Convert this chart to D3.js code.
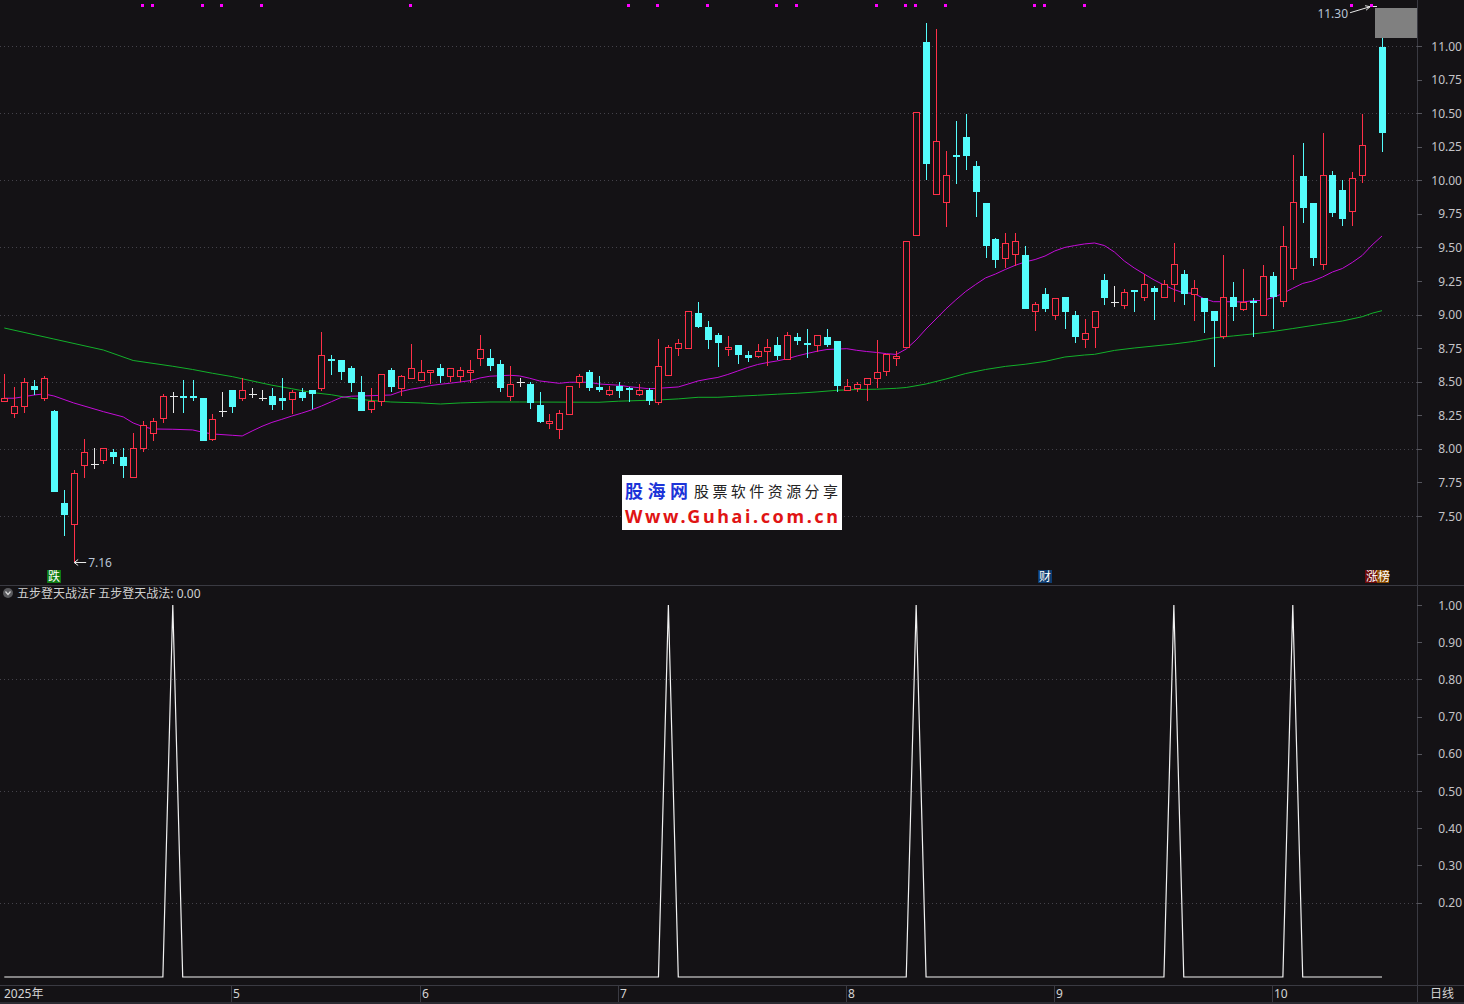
<!DOCTYPE html>
<html>
<head>
<meta charset="utf-8">
<script src="https://cdn.jsdelivr.net/npm/d3@7"></script>
<style>
html, body { margin: 0; padding: 0; background: #141215; overflow: hidden; }
text { font-family: "Noto Sans", "Noto Sans CJK SC", sans-serif; }
</style>
</head>
<body>
<script>
// daily bars (index 0 .. 139)
var opens = [8.36,8.27,8.32,8.47,8.38,8.28,7.60,7.44,7.88,7.89, 7.92,7.98,7.94,7.79,8.01,8.12,8.23,8.39,8.39,8.39,
             8.38,8.07,8.28,8.44,8.38,8.41,8.38,8.39,8.38,8.37, 8.42,8.44,8.45,8.67,8.66,8.60,8.42,8.30,8.36,8.59,
             8.45,8.53,8.51,8.57,8.60,8.54,8.54,8.57,8.68,8.68, 8.63,8.39,8.50,8.48,8.33,8.19,8.15,8.26,8.50,8.57,
             8.46,8.41,8.47,8.45,8.41,8.44,8.35,8.55,8.75,8.75, 9.01,8.91,8.85,8.74,8.77,8.70,8.69,8.73,8.77,8.67,
             8.83,8.79,8.77,8.83,8.80,8.44,8.45,8.48,8.53,8.58, 8.68,8.76,9.59,11.03,9.90,9.84,10.19,10.32,10.11,9.83,
             9.56,9.42,9.45,9.44,9.03,9.15,9.00,9.13,9.00,8.82, 8.91,9.26,9.09,9.07,9.18,9.13,9.20,9.13,9.23,9.30,
             9.15,9.12,9.03,8.84,9.13,9.04,9.10,9.00,9.29,9.10, 9.35,10.03,9.83,9.38,10.04,9.93,9.77,10.04,11.30,10.99];
var highs = [8.56,8.46,8.53,8.51,8.54,8.29,7.69,7.84,8.07,8.01, 8.01,8.00,8.01,8.12,8.21,8.23,8.41,8.42,8.51,8.51,
             8.38,8.26,8.42,8.44,8.53,8.45,8.44,8.45,8.53,8.44, 8.45,8.44,8.87,8.70,8.66,8.62,8.54,8.45,8.56,8.60,
             8.55,8.78,8.66,8.59,8.63,8.60,8.61,8.66,8.85,8.74, 8.66,8.62,8.53,8.50,8.42,8.26,8.29,8.47,8.56,8.59,
             8.54,8.47,8.50,8.46,8.48,8.45,8.82,8.77,8.82,9.03, 9.09,8.95,8.86,8.84,8.77,8.73,8.78,8.82,8.83,8.87,
             8.86,8.89,8.85,8.89,8.80,8.52,8.50,8.53,8.81,8.71, 8.73,9.55,10.51,11.17,11.13,10.22,10.44,10.49,10.14,9.83,
             9.57,9.61,9.61,9.51,9.09,9.20,9.12,9.13,9.03,8.97, 9.03,9.30,9.21,9.19,9.18,9.30,9.21,9.26,9.53,9.33,
             9.26,9.12,9.03,9.44,9.24,9.34,9.12,9.37,9.32,9.66, 10.19,10.28,9.83,10.35,10.07,10.00,10.06,10.49,11.30,11.20];
var lows   = [8.36,8.23,8.27,8.40,8.36,7.68,7.35,7.16,7.78,7.85, 7.89,7.89,7.78,7.79,7.98,8.06,8.19,8.27,8.27,8.36,
             8.06,8.06,8.24,8.27,8.36,8.38,8.36,8.29,8.29,8.26, 8.36,8.30,8.43,8.55,8.51,8.42,8.28,8.27,8.32,8.42,
             8.39,8.53,8.51,8.48,8.49,8.50,8.50,8.49,8.62,8.58, 8.42,8.36,8.46,8.30,8.19,8.15,8.07,8.26,8.45,8.43,
             8.42,8.39,8.38,8.35,8.39,8.33,8.33,8.54,8.69,8.75, 8.90,8.74,8.61,8.69,8.63,8.65,8.68,8.62,8.66,8.67,
             8.77,8.68,8.72,8.76,8.42,8.44,8.42,8.36,8.45,8.54, 8.62,8.75,9.59,10.00,9.90,9.65,9.97,10.08,9.73,9.42,
             9.35,9.35,9.36,9.04,8.88,9.02,8.96,8.89,8.79,8.75, 8.75,9.07,9.06,9.04,9.02,9.10,8.96,9.12,9.09,9.07,
             8.95,8.86,8.61,8.82,8.95,9.03,8.83,9.00,8.89,9.06, 9.26,9.68,9.36,9.33,9.73,9.66,9.66,9.98,11.30,10.21];
var closes = [8.38,8.32,8.50,8.44,8.53,7.68,7.51,7.82,7.98,7.89, 8.01,7.94,7.87,8.01,8.18,8.21,8.39,8.39,8.38,8.38,
             8.06,8.22,8.28,8.31,8.44,8.41,8.38,8.33,8.36,8.42, 8.38,8.41,8.70,8.66,8.57,8.49,8.28,8.36,8.56,8.46,
             8.54,8.60,8.57,8.59,8.54,8.60,8.59,8.59,8.74,8.62, 8.45,8.48,8.50,8.34,8.20,8.21,8.27,8.47,8.54,8.45,
             8.44,8.44,8.43,8.44,8.44,8.36,8.62,8.76,8.79,9.03, 8.91,8.81,8.79,8.76,8.70,8.68,8.73,8.76,8.69,8.85,
             8.80,8.77,8.85,8.77,8.47,8.47,8.48,8.53,8.57,8.71, 8.69,9.55,10.51,10.12,10.29,10.04,10.18,10.18,9.91,9.51,
             9.41,9.53,9.55,9.04,9.08,9.04,9.12,9.02,8.83,8.86, 9.03,9.12,9.09,9.17,9.17,9.23,9.17,9.23,9.38,9.15,
             9.20,9.02,8.95,9.13,9.06,9.09,9.09,9.29,9.13,9.51, 9.84,9.79,9.42,10.04,9.76,9.71,10.02,10.26,11.30,10.35];

// moving averages: [day, price]
var maPink = [[0,8.377],[1,8.377],[2,8.389],[3,8.401],[4,8.409],[5,8.394],[7,8.342],[10,8.277],[12,8.238],[13,8.193],
              [14,8.165],[15,8.148],[17,8.146],[19,8.141],[20,8.124],[21,8.111],[23,8.101],[24,8.096],[25,8.133],[26,8.168],
              [27,8.197],[28,8.220],[29,8.244],[30,8.266],[31,8.290],[32,8.319],[33,8.351],[34,8.383],[35,8.392],[37,8.396],
              [39,8.401],[40,8.427],[41,8.444],[42,8.456],[43,8.471],[44,8.481],[45,8.489],[46,8.498],[47,8.508],[48,8.528],
              [49,8.541],[51,8.548],[52,8.543],[53,8.526],[54,8.506],[56,8.488],[57,8.496],[59,8.496],[60,8.483],[62,8.474],
              [63,8.463],[64,8.456],[65,8.448],[66,8.451],[68,8.461],[69,8.483],[70,8.506],[71,8.520],[72,8.532],[73,8.554],
              [74,8.580],[75,8.606],[76,8.628],[77,8.643],[78,8.655],[79,8.671],[80,8.692],[81,8.710],[82,8.727],[83,8.740],
              [85,8.746],[86,8.734],[87,8.725],[88,8.718],[89,8.709],[90,8.703],[91,8.744],[92,8.811],[93,8.893],[94,8.967],
              [95,9.042],[96,9.109],[97,9.172],[98,9.224],[99,9.273],[100,9.302],[101,9.336],[102,9.367],[103,9.392],[104,9.410],
              [105,9.436],[106,9.474],[107,9.500],[108,9.514],[109,9.526],[110,9.533],[111,9.514],[112,9.466],[113,9.399],[114,9.347],
              [115,9.302],[116,9.258],[117,9.220],[118,9.187],[119,9.161],[120,9.159],[121,9.120],[122,9.096],[123,9.096],[125,9.094],
              [126,9.104],[127,9.105],[128,9.127],[129,9.157],[130,9.196],[131,9.232],[132,9.250],[133,9.280],[134,9.317],[135,9.343],
              [136,9.388],[137,9.440],[138,9.518],[139,9.585]];
var maGreen = [[0,8.900],[5,8.818],[10,8.736],[13,8.658],[17,8.615],[19,8.591],[21,8.563],[23,8.538],[25,8.506],[27,8.474],
               [29,8.448],[31,8.420],[33,8.403],[35,8.377],[37,8.360],[39,8.349],[42,8.342],[44,8.334],[46,8.342],[49,8.349],
               [52,8.349],[60,8.347],[62,8.355],[66,8.364],[68,8.372],[70,8.384],[72,8.384],[74,8.392],[76,8.399],[78,8.407],
               [80,8.414],[82,8.424],[84,8.436],[86,8.442],[88,8.444],[90,8.451],[91,8.457],[93,8.483],[95,8.520],[97,8.561],
               [99,8.591],[101,8.614],[103,8.630],[105,8.651],[107,8.684],[109,8.699],[110,8.704],[112,8.733],[114,8.751],[116,8.766],
               [118,8.781],[120,8.800],[122,8.826],[124,8.841],[126,8.856],[128,8.874],[130,8.896],[133,8.930],[135,8.952],[137,8.984],
               [138,9.010],[139,9.029]];

// 五步登天战法 signal, one value per day
var signal = [0,0,0,0,0,0,0,0,0,0, 0,0,0,0,0,0,0,1,0,0,
              0,0,0,0,0,0,0,0,0,0, 0,0,0,0,0,0,0,0,0,0,
              0,0,0,0,0,0,0,0,0,0, 0,0,0,0,0,0,0,0,0,0,
              0,0,0,0,0,0,0,1,0,0, 0,0,0,0,0,0,0,0,0,0,
              0,0,0,0,0,0,0,0,0,0, 0,0,1,0,0,0,0,0,0,0,
              0,0,0,0,0,0,0,0,0,0, 0,0,0,0,0,0,0,0,1,0,
              0,0,0,0,0,0,0,0,0,0, 1,0,0,0,0,0,0,0,0,0];

var markerDays = [14,15,20,22,26,41,63,66,71,78,80,88,91,92,95,104,105,109,136,138];
var monthNames = ["2025年","5","6","7","8","9","10"];
var monthDays  = [0,23,42,62,85,106,128];
var priceTicks = [11.00,10.75,10.50,10.25,10.00,9.75,9.50,9.25,9.00,8.75,8.50,8.25,8.00,7.75,7.50];
var priceGrid  = [11.0,10.5,10.0,9.5,9.0,8.5,8.0,7.5];
var sigTicks   = [1.0,0.9,0.8,0.7,0.6,0.5,0.4,0.3,0.2];
var sigGrid    = [0.8,0.5,0.2];
var flagTags   = [{day:5, text:"跌", bg:"#0f7a12"}, {day:105, text:"财", bg:"#0e3c70"}];

var W = 1464, H = 1004;
var plotRight = 1417;
var bg = "#141215";
var upCol = "#ff3048", downCol = "#54fcfc", flatCol = "#e8e8e8";

var svg = d3.select("body").append("svg")
    .attr("width", W)
    .attr("height", H)
    .style("display", "block");

svg.append("rect").attr("width", W).attr("height", H).attr("fill", bg);

var x = d3.scaleLinear().domain([0, 139]).range([4.3, 1382]);
var y = d3.scaleLinear().domain([7.5, 11]).range([516, 46]);
var y2 = d3.scaleLinear().domain([0, 1]).range([977, 605]);
var px = function(i) { return Math.round(x(i)) + 0.5; };

// dotted grid
svg.selectAll("line.pgrid").data(priceGrid).enter().append("line")
    .attr("x1", 0).attr("x2", plotRight)
    .attr("y1", function(d) { return Math.round(y(d)) + 0.5; })
    .attr("y2", function(d) { return Math.round(y(d)) + 0.5; })
    .attr("stroke", "#44424a").attr("stroke-dasharray", "1,3");
svg.selectAll("line.sgrid").data(sigGrid).enter().append("line")
    .attr("x1", 0).attr("x2", plotRight)
    .attr("y1", function(d) { return Math.round(y2(d)) + 0.5; })
    .attr("y2", function(d) { return Math.round(y2(d)) + 0.5; })
    .attr("stroke", "#44424a").attr("stroke-dasharray", "1,3");

// moving averages
var maLine = d3.line()
    .x(function(d) { return x(d[0]); })
    .y(function(d) { return y(d[1]); });
svg.append("path").datum(maGreen).attr("d", maLine)
    .attr("fill", "none").attr("stroke", "#12b02a").attr("stroke-width", 1);
svg.append("path").datum(maPink).attr("d", maLine)
    .attr("fill", "none").attr("stroke", "#c40cd8").attr("stroke-width", 1);

// candles
var bars = d3.range(opens.length).map(function(i) {
    return {i: i, o: opens[i], h: highs[i], l: lows[i], c: closes[i]};
});
var cg = svg.append("g").attr("shape-rendering", "crispEdges");
bars.forEach(function(d) {
    var cx = px(d.i);
    var yo = Math.round(y(d.o)), yc = Math.round(y(d.c));
    var yh = Math.round(y(d.h)), yl = Math.round(y(d.l));
    if (d.c > d.o) {
        if (yh < yc) cg.append("line").attr("x1", cx).attr("x2", cx).attr("y1", yh).attr("y2", yc).attr("stroke", upCol);
        if (yl > yo) cg.append("line").attr("x1", cx).attr("x2", cx).attr("y1", yo).attr("y2", yl).attr("stroke", upCol);
        cg.append("rect")
            .attr("x", cx - 3).attr("y", yc + 0.5)
            .attr("width", 6).attr("height", Math.max(1, yo - yc))
            .attr("fill", bg).attr("stroke", upCol);
    } else if (d.c < d.o) {
        cg.append("line").attr("x1", cx).attr("x2", cx).attr("y1", yh).attr("y2", yl).attr("stroke", downCol);
        cg.append("rect")
            .attr("x", cx - 3.5).attr("y", yo)
            .attr("width", 7).attr("height", Math.max(2, yc - yo))
            .attr("fill", downCol);
    } else {
        cg.append("line").attr("x1", cx).attr("x2", cx).attr("y1", yh).attr("y2", yl).attr("stroke", flatCol);
        cg.append("line").attr("x1", cx - 4).attr("x2", cx + 4).attr("y1", yo + 0.5).attr("y2", yo + 0.5).attr("stroke", flatCol);
    }
});

// magenta markers on the top edge
svg.selectAll("rect.mk").data(markerDays).enter().append("rect")
    .attr("x", function(d) { return Math.round(x(d)) - 2; })
    .attr("y", 4).attr("width", 3).attr("height", 3)
    .attr("fill", "#ff00ff");

// grey box top right
svg.append("rect").attr("x", 1375).attr("y", 8).attr("width", 42).attr("height", 30).attr("fill", "#808080");

// high / low annotations
var hiIdx = d3.maxIndex(highs), loIdx = d3.minIndex(lows);
var hx = x(hiIdx) - 2, hy = y(highs[hiIdx]) + 1;
svg.append("path")
    .attr("d", "M" + (hx - 20) + "," + (hy + 6) + " L" + hx + "," + hy + " M" + (hx - 5) + "," + (hy - 1) + " L" + hx + "," + hy + " L" + (hx - 4) + "," + (hy + 3.5))
    .attr("fill", "none").attr("stroke", "#e8e8e8").attr("stroke-width", 1);
svg.append("text").attr("x", hx - 22).attr("y", hy + 11)
    .attr("text-anchor", "end").attr("font-size", 12).attr("fill", "#b8c4d4")
    .text(d3.format(".2f")(highs[hiIdx]));

var lx = x(loIdx) + 0.5, ly = Math.round(y(lows[loIdx])) + 0.5;
svg.append("path")
    .attr("d", "M" + (lx + 12) + "," + ly + " L" + lx + "," + ly + " M" + (lx + 4) + "," + (ly - 3) + " L" + lx + "," + ly + " L" + (lx + 4) + "," + (ly + 3))
    .attr("fill", "none").attr("stroke", "#e8e8e8").attr("stroke-width", 1);
svg.append("text").attr("x", lx + 14).attr("y", ly + 4.5)
    .attr("font-size", 12).attr("fill", "#b8c4d4")
    .text(d3.format(".2f")(lows[loIdx]));

// small tags under the candles
flagTags.forEach(function(t) {
    var cx = Math.round(x(t.day));
    svg.append("rect").attr("x", cx - 7).attr("y", 570).attr("width", 14).attr("height", 13).attr("fill", t.bg);
    svg.append("text").attr("x", cx).attr("y", 581).attr("text-anchor", "middle")
        .attr("font-family", "Noto Sans CJK SC").attr("font-size", 12).attr("fill", "#ffffff").text(t.text);
});
svg.append("rect").attr("x", 1365).attr("y", 570).attr("width", 12).attr("height", 13).attr("fill", "#6c0a0a");
svg.append("rect").attr("x", 1377).attr("y", 570).attr("width", 12).attr("height", 13).attr("fill", "#8a4c00");
svg.append("text").attr("x", 1366).attr("y", 581).attr("font-family", "Noto Sans CJK SC")
    .attr("font-size", 12).attr("fill", "#ffffff").text("涨榜");

// watermark
svg.append("rect").attr("x", 622).attr("y", 475).attr("width", 220).attr("height", 55).attr("fill", "#ffffff");
svg.append("text").attr("x", 625).attr("y", 498).attr("font-family", "Noto Sans CJK SC")
    .attr("font-weight", "bold").attr("font-size", 18).attr("fill", "#1c34d8")
    .attr("textLength", 63).text("股海网");
svg.append("text").attr("x", 694).attr("y", 497).attr("font-family", "Noto Sans CJK SC")
    .attr("font-size", 15).attr("fill", "#222222")
    .attr("textLength", 144).text("股票软件资源分享");
svg.append("text").attr("x", 625).attr("y", 523).attr("font-family", "Liberation Sans")
    .attr("font-weight", "bold").attr("font-size", 18).attr("fill", "#e01414")
    .attr("textLength", 213).text("Www.Guhai.com.cn");

// signal panel
svg.append("path").datum(signal)
    .attr("d", d3.line().x(function(d, i) { return x(i); }).y(function(d) { return y2(d); }))
    .attr("fill", "none").attr("stroke", "#f2f2f2").attr("stroke-width", 1.2);

svg.append("circle").attr("cx", 8).attr("cy", 593).attr("r", 5).attr("fill", "#5a5a5e");
svg.append("path").attr("d", "M5.5,591.5 L8,594.5 L10.5,591.5").attr("fill", "none").attr("stroke", "#d8d8d8").attr("stroke-width", 1.2);
svg.append("text").attr("x", 17).attr("y", 597.5)
    .attr("font-family", "Noto Sans CJK SC").attr("font-size", 12).attr("fill", "#d0d0d0")
    .text("五步登天战法F 五步登天战法: " + d3.format(".2f")(signal[signal.length - 1]));

// frame lines
var frame = svg.append("g").attr("stroke", "#3a3a42").attr("shape-rendering", "crispEdges");
frame.append("line").attr("x1", plotRight + 0.5).attr("x2", plotRight + 0.5).attr("y1", 0).attr("y2", 1002);
frame.append("line").attr("x1", 0).attr("x2", W).attr("y1", 585.5).attr("y2", 585.5);
frame.append("line").attr("x1", 0).attr("x2", W).attr("y1", 985.5).attr("y2", 985.5);
svg.append("rect").attr("x", 0).attr("y", 1002).attr("width", W).attr("height", 2).attr("fill", "#2c2b32");

// right axes
var axisText = "#c4c4c8";
svg.selectAll("line.pt").data(priceTicks).enter().append("line")
    .attr("x1", plotRight).attr("x2", plotRight + 5)
    .attr("y1", function(d) { return Math.round(y(d)) + 0.5; })
    .attr("y2", function(d) { return Math.round(y(d)) + 0.5; })
    .attr("stroke", "#55555c");
svg.selectAll("text.pt").data(priceTicks).enter().append("text")
    .attr("x", 1462).attr("y", function(d) { return y(d) + 4.5; })
    .attr("text-anchor", "end").attr("font-size", 12).attr("fill", axisText)
    .text(function(d) { return d3.format(".2f")(d); });
svg.selectAll("line.st").data(sigTicks).enter().append("line")
    .attr("x1", plotRight).attr("x2", plotRight + 5)
    .attr("y1", function(d) { return Math.round(y2(d)) + 0.5; })
    .attr("y2", function(d) { return Math.round(y2(d)) + 0.5; })
    .attr("stroke", "#55555c");
svg.selectAll("text.st").data(sigTicks).enter().append("text")
    .attr("x", 1462).attr("y", function(d) { return y2(d) + 4.5; })
    .attr("text-anchor", "end").attr("font-size", 12).attr("fill", axisText)
    .text(function(d) { return d3.format(".2f")(d); });

// date strip
monthDays.forEach(function(d, k) {
    var mx = Math.round(x(d));
    if (k > 0) {
        svg.append("line").attr("x1", mx - 0.5).attr("x2", mx - 0.5).attr("y1", 986).attr("y2", 1002)
            .attr("stroke", "#3a3a42");
    }
    svg.append("text").attr("x", k == 0 ? 4 : mx + 1).attr("y", 998)
        .attr("font-family", "Noto Sans CJK SC").attr("font-size", 12).attr("fill", "#d4d4d4")
        .text(monthNames[k]);
});
svg.append("text").attr("x", 1430).attr("y", 998)
    .attr("font-family", "Noto Sans CJK SC").attr("font-size", 12).attr("fill", "#d4d4d4")
    .text("日线");
</script>
</body>
</html>
